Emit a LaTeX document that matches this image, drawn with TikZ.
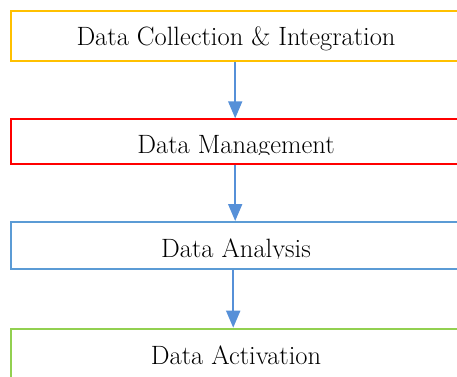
\documentclass[tikz,border=0pt]{standalone}
\usepackage{tikz}
\usetikzlibrary{arrows.meta}

\definecolor{boxgold}{HTML}{FFC000}
\definecolor{boxred}{HTML}{FF0000}
\definecolor{boxblue}{HTML}{5B9BD5}
\definecolor{boxgreen}{HTML}{92D050}
\definecolor{flowblue}{HTML}{5690D8}

\tikzset{
  stage/.style={draw=#1, line width=1.8pt, minimum width=452pt, inner sep=0pt, anchor=north west},
  stagetext/.style={anchor=base, inner sep=0pt, font=\fontsize{26.5}{31}\selectfont},
  flow/.style={draw=flowblue, line width=1.8pt, -{Triangle[width=14pt,length=17pt]}}
}

\begin{document}
\begin{tikzpicture}[x=1pt,y=-1pt]
    \useasboundingbox (0,0) rectangle (457,376);

    % the four stages, top to bottom
    \node [stage=boxgold, minimum height=50pt] (collect) at (10.3,10) {};
    \node [stage=boxred, minimum height=44.5pt] (manage) at (10.3,118.3) {};
    \node [stage=boxblue, minimum height=46.7pt] (analyse) at (10.3,221) {};
    \node [stage=boxgreen, minimum height=70pt] (activate) at (10.3,327.7) {};

    \node [stagetext] (collectlabel) at (236,45) {Data Collection \& Integration};
    \begin{scope}
      \clip (10,118) rectangle (462,154.5);
      \node [stagetext] (managelabel) at (236,153.3) {Data Management};
    \end{scope}
    \begin{scope}
      \clip (10,221) rectangle (462,258.5);
      \node [stagetext] (analyselabel) at (236,257.3) {Data Analysis};
    \end{scope}
    \node [stagetext] (activatelabel) at (236,364) {Data Activation};

    % arrows between stages
    \draw [flow] ([xshift=-2pt]collect.south) -- ([xshift=-2pt]manage.north);
    \draw [flow] ([xshift=-2pt]manage.south) -- ([xshift=-2pt]analyse.north);
    \draw [flow] ([xshift=-4pt]analyse.south) -- ([xshift=-4pt]activate.north);
\end{tikzpicture}
\end{document}
